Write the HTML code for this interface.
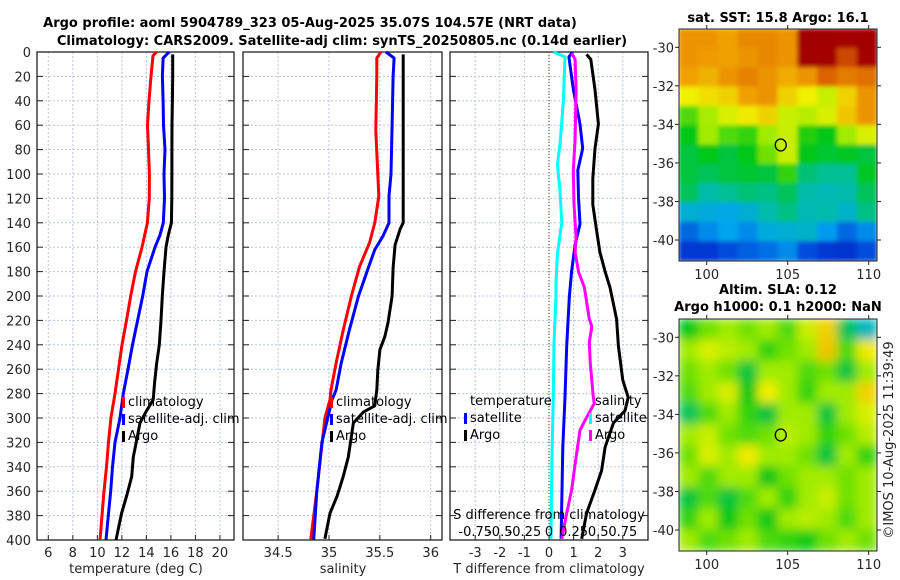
<!DOCTYPE html>
<html><head><meta charset="utf-8"><style>
html,body{margin:0;padding:0;background:#fff;}
svg{display:block;font-family:"DejaVu Sans","Liberation Sans",sans-serif;}
</style></head><body>
<svg id="fig" width="900" height="580" viewBox="0 0 900 580" xmlns="http://www.w3.org/2000/svg">
<text x="310" y="27" font-size="13" font-weight="bold" text-anchor="middle" fill="#000">Argo profile: aoml 5904789_323 05-Aug-2025 35.07S 104.57E (NRT data)</text>
<text x="342" y="45" font-size="13" font-weight="bold" text-anchor="middle" fill="#000">Climatology: CARS2009. Satellite-adj clim: synTS_20250805.nc (0.14d earlier)</text>
<text x="778" y="22" font-size="13" font-weight="bold" text-anchor="middle">sat. SST: 15.8 Argo: 16.1</text>
<text x="778" y="294" font-size="13" font-weight="bold" text-anchor="middle">Altim. SLA: 0.12</text>
<text x="778" y="311" font-size="13" font-weight="bold" text-anchor="middle">Argo h1000: 0.1 h2000: NaN</text>
<text transform="translate(893,440) rotate(-90)" font-size="13" text-anchor="middle" fill="#262626">©IMOS 10-Aug-2025 11:39:49</text>
<g id="layer"></g>
</svg>
<script>
// ---- data ----
const tickDepths = [0,20,40,60,80,100,120,140,160,180,200,220,240,260,280,300,320,340,360,380,400];
const tempTicks = [6,8,10,12,14,16,18,20];
const salTicks = [34.5,35,35.5,36];
const diffTTicks = [-3,-2,-1,0,1,2,3];
const diffSTicks = ["-0.75","-0.5","-0.25","0","0.25","0.5","0.75"];
const diffSTickVals = [-0.75,-0.5,-0.25,0,0.25,0.5,0.75];

const climTDepth = [0,3,20,40,60,80,100,120,140,160,180,200,220,240,260,280,300,320,340,360,380,400];
const climT = [14.84,14.54,14.38,14.21,14.09,14.17,14.25,14.24,14.08,13.64,13.11,12.72,12.38,12.01,11.73,11.44,11.11,10.91,10.75,10.54,10.38,10.22];
const satTDepth = [0,5,20,40,60,80,100,120,140,150,160,180,200,220,240,260,280,300,320,340,360,380,400];
const satT = [15.85,15.36,15.31,15.36,15.40,15.52,15.44,15.48,15.38,15.11,14.70,14.05,13.70,13.28,12.87,12.50,12.12,11.85,11.44,11.24,11.09,10.89,10.71];
const argoTDepth = [2,20,40,60,80,100,120,140,150,160,180,200,220,240,255,270,285,295,304,318,332,348,364,378,400];
const argoT = [16.15,16.15,16.12,16.09,16.08,16.08,16.07,16.04,15.79,15.60,15.44,15.30,15.19,15.05,14.84,14.68,14.56,13.96,13.48,13.21,12.93,12.80,12.39,11.98,11.52];

const climSDepth = [0,5,20,64,118,140,156,176,200,228,255,277,285,300,360,400];
const climS = [35.51,35.47,35.47,35.46,35.49,35.45,35.40,35.30,35.22,35.14,35.07,35.02,35.01,34.96,34.88,34.82];
const satSDepth = [0,5,20,60,100,118,140,151,162,176,200,228,255,277,285,320,360,400];
const satS = [35.56,35.64,35.63,35.62,35.61,35.59,35.59,35.53,35.45,35.39,35.29,35.20,35.12,35.07,35.03,34.93,34.88,34.85];
const argoSDepth = [2,140,145,158,177,200,222,233,244,261,277,290,295,304,332,348,364,378,399];
const argoS = [35.73,35.73,35.70,35.65,35.63,35.62,35.58,35.55,35.50,35.48,35.47,35.45,35.34,35.24,35.19,35.14,35.08,35.01,34.96];

const dSatTDepth = [0,4,31,59,79,97,119,141,158,180,200,241,283,324,399];
const dSatT = [0.96,0.81,0.99,1.26,1.37,1.17,1.20,1.26,1.06,0.92,0.83,0.72,0.65,0.56,0.49];
const dArgoTDepth = [2,6,31,59,79,104,125,147,164,180,193,219,241,269,283,294,304,324,343,359,378,399];
const dArgoT = [1.53,1.70,1.87,2.01,1.87,1.78,1.78,1.94,2.07,2.28,2.48,2.75,2.82,3.00,3.22,3.09,2.62,2.28,2.14,1.87,1.53,1.33];
const dSatSDepth = [0,4,40,76,92,114,140,165,190,200,241,283,330,399];
const dSatS = [0.044,0.163,0.146,0.112,0.085,0.112,0.13,0.085,0.071,0.071,0.05,0.044,0.03,0.02];
const dArgoSDepth = [1,6,31,72,97,125,152,164,180,193,219,225,238,255,269,283,288,299,310,332,359,378,399];
const dArgoS = [0.23,0.265,0.275,0.265,0.247,0.254,0.275,0.265,0.30,0.36,0.41,0.435,0.41,0.42,0.435,0.45,0.46,0.385,0.315,0.275,0.23,0.18,0.13];

const mapLatTicks = [-30,-32,-34,-36,-38,-40];
const mapLonTicks = [100,105,110];
const argoLat = -35.07, argoLon = 104.57;
const sstGrid = [
[0.80,0.80,0.78,0.82,0.82,0.80,0.96,0.96,0.95,0.96],
[0.80,0.79,0.78,0.80,0.82,0.80,0.95,0.95,0.90,0.95],
[0.78,0.75,0.80,0.83,0.80,0.76,0.80,0.88,0.84,0.86],
[0.65,0.68,0.70,0.78,0.80,0.70,0.65,0.60,0.70,0.80],
[0.50,0.56,0.62,0.66,0.70,0.60,0.58,0.62,0.72,0.80],
[0.45,0.55,0.50,0.48,0.55,0.60,0.47,0.45,0.55,0.62],
[0.42,0.45,0.42,0.45,0.52,0.60,0.45,0.43,0.44,0.42],
[0.42,0.40,0.42,0.43,0.42,0.48,0.38,0.36,0.36,0.44],
[0.40,0.34,0.36,0.38,0.37,0.40,0.34,0.33,0.34,0.40],
[0.30,0.29,0.28,0.30,0.34,0.37,0.33,0.34,0.31,0.37],
[0.20,0.24,0.27,0.24,0.29,0.30,0.31,0.26,0.20,0.24],
[0.14,0.14,0.17,0.19,0.21,0.24,0.17,0.14,0.13,0.17]];
const slaGrid = [
[0.45,0.52,0.55,0.52,0.55,0.50,0.60,0.70,0.40,0.32],
[0.55,0.62,0.58,0.55,0.48,0.52,0.55,0.72,0.50,0.66],
[0.52,0.55,0.52,0.42,0.55,0.55,0.50,0.52,0.42,0.55],
[0.50,0.55,0.62,0.45,0.65,0.55,0.48,0.55,0.55,0.70],
[0.40,0.50,0.55,0.48,0.42,0.55,0.55,0.42,0.55,0.62],
[0.55,0.60,0.52,0.50,0.52,0.58,0.55,0.48,0.52,0.58],
[0.52,0.62,0.55,0.66,0.55,0.55,0.52,0.42,0.55,0.48],
[0.55,0.50,0.55,0.55,0.45,0.52,0.55,0.55,0.52,0.55],
[0.42,0.50,0.42,0.50,0.55,0.48,0.55,0.60,0.52,0.55],
[0.48,0.55,0.45,0.52,0.45,0.55,0.58,0.55,0.50,0.55],
[0.55,0.50,0.52,0.55,0.50,0.48,0.46,0.52,0.55,0.52]];

// ---- layout ----
const NS="http://www.w3.org/2000/svg";
const layer=document.getElementById('layer');
function mk(tag,attrs,parent){const e=document.createElementNS(NS,tag);for(const k in attrs)e.setAttribute(k,attrs[k]);(parent||layer).appendChild(e);return e;}
const yTop=52, yBot=540;
const yD = d => yTop + d*(yBot-yTop)/400;
const P1={l:37,r:234}, P2={l:243,r:442}, P3={l:450,r:648};
const xT = t => 48.3 + (t-6)*12.26;
const xS = s => 329 + (s-35)*101.7;
const xDT = t => 549 + t*24.6;
const xDS = s => 549 + s*98.4;
const GRID="#bcc3e6", TXT="#262626";

function grid(P, xs){
  xs.forEach(x=>{const l=mk('line',{x1:x,x2:x,y1:yTop,y2:yBot,stroke:GRID,'stroke-width':1,'stroke-dasharray':'2,2'});
    
    });
  tickDepths.forEach(d=>{const l=mk('line',{x1:P.l,x2:P.r,y1:yD(d),y2:yD(d),stroke:GRID,'stroke-width':1,'stroke-dasharray':'2,2'});
    
    
    [[P.l,P.l+6],[P.r-6,P.r]].forEach(([a,b])=>{const t=mk('line',{x1:a,x2:b,y1:yD(d),y2:yD(d),stroke:'#222','stroke-width':1});
      
      });
  });
  xs.forEach(x=>{const t=mk('line',{x1:x,x2:x,y1:yBot-5,y2:yBot,stroke:'#222'});
    
    });
  const f=mk('rect',{x:P.l,y:yTop,width:P.r-P.l,height:yBot-yTop,fill:'none',stroke:'#222','stroke-width':1.3});
  
  
}
function line(depths, vals, xf, color, name, w){
  const pts=depths.map((d,i)=>xf(vals[i]).toFixed(1)+','+yD(d).toFixed(1)).join(' ');
  const p=mk('polyline',{points:pts,fill:'none',stroke:color,'stroke-width':w||3,'stroke-linejoin':'round'});
  
  
}
function text(x,y,s,attrs,name){const t=mk('text',Object.assign({x:x,y:y,'font-size':13,fill:TXT},attrs||{}));t.textContent=s;
  
  return t;}

// Panel 1
grid(P1, tempTicks.map(xT));
tickDepths.forEach(d=>text(31,yD(d)+5,String(d),{'text-anchor':'end'},'depth-tick-label'));
tempTicks.forEach(t=>text(xT(t),557,String(t),{'text-anchor':'middle'},'temperature-tick-label'));
text(136,573,'temperature (deg C)',{'text-anchor':'middle'},'temperature-axis-title');
line(climTDepth,climT,xT,'#ff0000','climatology-temperature-line');
line(satTDepth,satT,xT,'#0000ff','satellite-temperature-line');
line(argoTDepth,argoT,xT,'#000000','argo-temperature-line');

// Panel 2
grid(P2, salTicks.map(xS));
salTicks.forEach(s=>text(xS(s),557,String(s),{'text-anchor':'middle'},'salinity-tick-label'));
text(343,573,'salinity',{'text-anchor':'middle'},'salinity-axis-title');
line(climSDepth,climS,xS,'#ff0000','climatology-salinity-line');
line(satSDepth,satS,xS,'#0000ff','satellite-salinity-line');
line(argoSDepth,argoS,xS,'#000000','argo-salinity-line');

// Panel 3
grid(P3, diffTTicks.map(xDT));
const z=mk('line',{x1:549,x2:549,y1:yTop,y2:yBot,stroke:'#556b2f','stroke-width':1.2,'stroke-dasharray':'1,2'});


diffTTicks.forEach(t=>text(xDT(t),557,String(t),{'text-anchor':'middle'},'t-diff-tick-label'));
text(549,573,'T difference from climatology',{'text-anchor':'middle'},'t-diff-axis-title');
line(dSatSDepth,dSatS,xDS,'#00ffff','satellite-salinity-diff-line');
line(dSatTDepth,dSatT,xDT,'#0000ff','satellite-temperature-diff-line');
line(dArgoSDepth,dArgoS,xDS,'#ff00ff','argo-salinity-diff-line');
line(dArgoTDepth,dArgoT,xDT,'#000000','argo-temperature-diff-line');
text(549,519,'S difference from climatology',{'text-anchor':'middle',fill:'#000'},'s-diff-axis-title');
diffSTickVals.forEach((s,i)=>text(xDS(s),536,diffSTicks[i],{'text-anchor':'middle',fill:'#000'},'s-diff-tick-label'));

// Legends
function legItem(x,y,color,label,name){
  const r=mk('rect',{x:x,y:y-9,width:3,height:11,fill:color});
  
  
  text(x+6,y,label,{fill:'#000'},name+'-label');
}
[122,330].forEach(x=>{
  legItem(x,406,'#ff0000','climatology','legend-climatology');
  legItem(x,423,'#0000ff','satellite-adj. clim','legend-satellite-adj');
  legItem(x,440,'#000000','Argo','legend-argo');
});
text(470,405,'temperature',{fill:'#000'},'legend-temperature-heading');
text(595,405,'salinity',{fill:'#000'},'legend-salinity-heading');
legItem(464,422,'#0000ff','satellite','legend-temp-satellite');
legItem(464,439,'#000000','Argo','legend-temp-argo');
legItem(589,422,'#00ffff','satellite','legend-sal-satellite');
legItem(589,439,'#ff00ff','Argo','legend-sal-argo');

// Maps
const cmapStops=[[0,[0,10,140]],[0.15,[0,60,215]],[0.27,[0,165,240]],[0.35,[0,190,160]],[0.45,[0,200,20]],[0.55,[160,235,0]],[0.65,[240,240,0]],[0.78,[240,160,0]],[0.88,[220,100,0]],[0.95,[165,0,0]],[1,[150,0,0]]];
function cmap(v){v=Math.max(0,Math.min(1,v));
  for(let i=1;i<cmapStops.length;i++){const [a,ca]=cmapStops[i-1],[b,cb]=cmapStops[i];
    if(v<=b){const f=(v-a)/(b-a);return `rgb(${ca.map((c,k)=>Math.round(c+(cb[k]-c)*f)).join(',')})`;}}
  return 'rgb(150,0,0)';}
const ML=679, MR=877;
const xLon = lon => 706.7 + (lon-100)*16.2;
function drawMap(grid, mt, mb, lat30, lat40, name, blur){
  const yLat = lat => lat30 + (-30-lat)*(lat40-lat30)/10;
  const g=mk('g',{});
  
  
  const cid='clip'+name;
  const cp=mk('clipPath',{id:cid});mk('rect',{x:ML,y:mt,width:MR-ML,height:mb-mt},cp);
  const inner=mk('g',{'clip-path':`url(#${cid})`},g);
  const gi=mk('g',blur?{filter:`url(#${blur})`}:{},inner);
  const rows=grid.length, cols=grid[0].length, cw=(MR-ML)/cols, ch=(mb-mt)/rows;
  grid.forEach((row,i)=>row.forEach((v,j)=>{
    const c=mk('rect',{x:ML+j*cw-0.5,y:mt+i*ch-0.5,width:cw+1,height:ch+1,fill:cmap(v)},gi);
    
    
  }));
  const fr=mk('rect',{x:ML,y:mt,width:MR-ML,height:mb-mt,fill:'none',stroke:'#222'},g);
  
  
  mapLatTicks.forEach(l=>{
    mk('line',{x1:ML-4,x2:ML,y1:yLat(l),y2:yLat(l),stroke:'#222'},g);
    mk('line',{x1:MR,x2:MR+4,y1:yLat(l),y2:yLat(l),stroke:'#222'},g);
    text(674,yLat(l)+5,String(l),{'text-anchor':'end'},'map-lat-label');
  });
  mapLonTicks.forEach(l=>{
    mk('line',{x1:xLon(l),x2:xLon(l),y1:mb,y2:mb+4,stroke:'#222'},g);
    mk('line',{x1:xLon(l),x2:xLon(l),y1:mt-4,y2:mt,stroke:'#222'},g);
    text(xLon(l),mb+18,String(l),{'text-anchor':'middle'},'map-lon-label');
  });
  const m=mk('ellipse',{cx:xLon(argoLon),cy:yLat(argoLat),rx:5.5,ry:6,fill:'none',stroke:'#000','stroke-width':1.3},g);
  
  
}
const defs=mk('defs',{});
const flt=mk('filter',{id:'blurSla',x:'-10%',y:'-10%',width:'120%',height:'120%'},defs);
mk('feGaussianBlur',{stdDeviation:5},flt);
const flt2=mk('filter',{id:'blurSst',x:'-10%',y:'-10%',width:'120%',height:'120%'},defs);
mk('feGaussianBlur',{stdDeviation:2},flt2);
drawMap(sstGrid,29,261,47.3,240,'sst-map','blurSst');
drawMap(slaGrid,319,551,337.3,530,'sla-map','blurSla');
</script>
</body></html>
